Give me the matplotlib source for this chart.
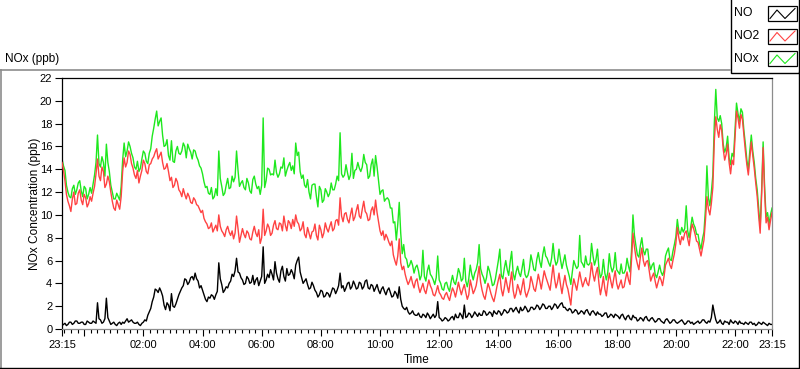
import numpy as np
import matplotlib
matplotlib.use('Agg')
import matplotlib.pyplot as plt
from matplotlib.lines import Line2D
from matplotlib.patches import Rectangle

# ---------------- data (ppb), sampled every 0.05 h (3 min) starting 23:15 ----------------
no = [
    0.3,0.4,0.5,0.3,0.4,0.6,0.6,0.4,0.5,0.7,0.7,0.5,0.5,0.6,0.6,0.4,0.4,0.7,0.6,0.5,
    0.5,0.7,0.6,0.5,2.3,0.9,0.8,0.5,0.6,0.9,2.7,1.0,0.7,0.4,0.5,0.6,0.4,0.3,0.5,0.6,
    0.4,0.6,0.5,0.7,0.9,0.6,0.7,0.8,0.6,0.5,0.5,0.6,0.4,0.3,0.5,0.6,0.8,0.7,1.2,1.5,
    1.8,2.4,2.8,3.5,3.4,3.2,3.6,3.3,2.9,2.1,1.7,2.3,2.1,1.6,3.1,2.0,1.9,2.2,2.6,3.0,
    3.3,3.6,3.8,4.4,4.3,3.9,4.1,4.5,4.6,4.3,4.9,4.4,4.2,3.6,3.8,3.4,3.0,2.6,2.4,2.8,
    2.7,3.0,2.9,2.6,3.0,3.3,5.8,4.4,3.9,3.2,3.4,3.7,3.6,4.0,4.2,4.8,4.6,5.1,6.2,5.0,
    4.9,4.5,4.3,3.9,4.0,4.6,4.4,4.0,4.1,4.7,3.9,4.3,4.5,3.8,4.2,4.6,7.2,4.0,4.3,4.8,
    4.5,5.2,4.8,4.3,5.9,4.9,4.4,4.1,5.1,5.5,4.6,4.2,5.3,4.7,4.8,5.2,4.9,4.4,5.6,6.0,
    6.3,5.0,4.5,4.0,4.2,4.4,3.9,3.5,3.6,4.1,3.8,3.4,3.2,2.8,3.0,3.4,3.3,2.8,2.9,3.2,
    3.1,2.8,3.2,3.6,3.5,3.1,3.4,3.8,4.9,3.6,3.8,3.3,3.6,4.0,4.1,3.5,3.7,4.2,3.9,3.5,
    3.6,4.1,4.0,3.5,3.7,4.2,4.3,3.6,3.5,3.9,3.8,3.3,3.6,3.9,3.4,3.1,3.5,3.7,3.3,3.0,
    3.4,3.6,3.2,2.8,2.9,3.3,3.1,2.7,3.7,2.6,2.0,1.8,1.7,1.9,1.5,1.3,1.4,1.6,1.3,1.2,
    1.2,1.4,1.1,1.0,1.3,1.2,1.0,1.4,1.2,0.9,1.1,1.3,1.0,1.2,2.4,1.0,0.9,0.7,0.8,1.0,
    0.9,0.7,0.8,1.0,1.1,0.8,1.3,1.0,1.0,1.4,1.2,0.9,2.1,1.0,1.1,1.4,1.3,1.0,1.2,1.5,
    1.3,1.1,1.4,1.2,1.2,1.6,1.5,1.2,1.3,1.5,1.4,1.1,1.6,1.4,1.3,1.6,1.5,1.2,1.4,1.7,
    1.6,1.4,1.5,1.8,1.8,1.5,1.7,1.9,1.6,1.4,1.9,1.6,1.7,2.0,1.8,1.5,1.6,1.9,1.9,1.7,
    1.8,2.1,2.0,1.7,1.9,2.2,2.1,1.8,1.8,2.0,2.0,1.7,1.9,2.2,2.1,1.8,2.0,2.2,2.3,1.9,
    1.9,1.7,1.6,1.8,1.7,1.4,1.5,1.7,1.6,1.3,1.4,1.6,1.5,1.3,1.6,1.7,1.4,1.2,1.5,1.6,
    1.4,1.2,1.5,1.3,1.3,1.1,1.2,1.4,1.4,1.0,1.1,1.3,1.2,1.0,1.3,1.2,1.1,0.9,1.2,1.3,
    1.0,0.8,1.1,1.2,0.9,0.8,1.2,1.0,1.0,0.7,0.8,1.0,0.9,0.7,1.0,1.1,0.8,0.7,0.9,1.0,
    0.8,0.6,0.7,0.9,0.9,0.7,0.6,0.5,0.8,0.9,0.7,0.5,0.6,0.8,0.8,0.6,0.5,0.6,0.7,0.8,
    0.6,0.4,0.5,0.7,0.7,0.5,0.6,0.4,0.5,0.6,0.7,0.5,0.6,0.8,0.8,0.6,0.5,0.7,0.6,1.0,
    2.1,1.4,0.8,0.5,0.6,0.8,0.5,0.4,0.7,0.6,0.6,0.4,0.8,0.6,0.5,0.7,0.6,0.4,0.7,0.5,
    0.5,0.4,0.6,0.5,0.4,0.6,0.6,0.4,0.5,0.3,0.4,0.6,0.5,0.4,0.6,0.5,0.4,0.3,0.5,0.4,
    0.4,
]

no2 = [
    14.6,13.9,13.0,11.8,11.2,10.8,10.3,11.4,12.0,10.9,11.0,11.9,12.2,11.3,10.9,11.8,11.5,10.7,11.0,11.6,
    11.2,11.9,12.5,13.6,14.9,13.4,13.0,14.2,13.8,12.4,12.7,13.4,12.9,12.0,11.2,10.6,10.4,11.3,10.9,10.5,
    11.6,13.8,15.0,14.2,14.6,15.6,15.3,14.5,14.1,13.5,13.2,13.9,12.8,13.4,13.9,14.8,14.5,13.8,13.6,14.4,
    14.5,14.9,15.1,15.5,15.8,14.9,15.2,15.5,14.6,14.0,14.1,14.5,13.8,13.0,13.3,12.4,12.6,13.2,12.9,12.2,
    12.0,11.6,12.3,11.8,11.4,11.9,11.6,11.1,11.0,11.5,11.3,10.9,10.8,10.5,10.2,10.4,9.7,9.4,9.2,8.8,
    8.9,9.3,8.5,8.8,9.1,8.6,10.0,9.0,8.6,8.4,8.1,8.7,9.0,8.5,8.2,8.6,7.9,8.4,9.9,8.8,
    7.6,8.2,8.8,8.3,8.0,8.6,8.4,7.9,7.8,8.5,9.0,8.4,8.1,8.7,7.5,8.0,10.5,8.2,8.6,9.2,
    8.9,8.2,8.4,9.1,9.5,8.8,8.7,9.3,9.2,8.6,9.9,9.1,8.6,9.5,9.3,8.8,9.6,9.0,10.0,9.4,
    9.2,8.6,8.8,9.4,8.3,8.0,8.9,8.4,7.9,8.5,8.6,9.2,8.2,7.8,9.1,8.7,8.0,8.4,9.3,8.8,
    8.5,9.0,9.4,8.6,8.8,9.5,9.6,9.1,11.5,9.9,9.4,10.1,10.2,9.6,9.3,10.0,10.6,9.5,9.8,10.4,
    10.9,9.9,9.7,10.5,11.2,10.3,10.1,9.5,9.6,10.4,10.7,10.0,11.3,10.2,9.4,8.6,8.2,8.6,7.8,8.3,
    8.0,7.6,7.3,7.7,6.5,6.0,5.6,6.4,7.9,5.8,5.2,5.5,4.8,4.3,3.9,4.2,4.6,4.0,3.6,4.2,
    4.4,3.7,3.2,3.6,4.0,3.4,3.1,3.7,4.3,3.8,3.5,3.0,2.9,3.3,3.8,3.2,3.0,2.7,2.6,3.0,
    3.2,2.8,2.5,3.1,3.6,3.3,2.8,3.4,4.1,3.5,3.0,3.5,3.9,3.2,2.6,3.0,4.3,3.7,3.1,3.4,
    3.8,4.6,5.5,4.1,3.4,2.9,2.6,3.3,4.0,3.6,3.1,2.7,2.4,3.0,3.7,4.3,4.8,3.5,2.9,3.6,
    4.5,3.8,3.2,4.1,5.0,3.4,2.7,3.1,3.9,3.5,3.0,3.7,4.4,3.3,2.8,3.2,3.6,4.6,4.1,3.5,
    3.3,4.0,4.8,4.2,3.5,4.3,5.1,4.6,4.2,3.8,3.4,4.5,5.6,4.4,3.6,4.1,4.9,3.9,3.1,4.0,
    4.7,3.9,3.5,2.8,2.1,3.6,4.4,3.9,3.4,4.2,5.0,4.3,3.7,4.1,4.5,4.0,3.8,4.6,5.8,4.8,
    4.2,4.9,5.4,4.0,3.0,3.7,4.6,3.5,2.9,4.0,4.9,4.2,3.6,4.4,5.1,4.0,3.5,3.9,4.3,3.6,
    3.7,4.4,5.0,4.3,3.9,6.0,8.4,7.2,6.3,5.7,5.2,6.3,7.1,6.0,5.5,5.9,6.0,5.1,4.2,4.6,
    4.9,4.2,3.6,4.1,4.6,4.3,3.8,4.6,5.6,5.9,6.2,5.6,5.3,6.0,6.6,7.5,8.9,8.0,7.4,8.1,
    7.8,8.4,8.6,7.9,7.3,8.4,9.2,8.8,8.3,7.7,7.6,7.0,6.4,7.1,7.8,9.5,11.6,10.5,10.0,11.0,
    12.4,16.5,18.6,17.5,16.8,17.9,17.4,15.8,14.8,15.3,16.2,14.6,13.6,14.8,14.4,16.8,19.1,18.5,17.6,18.8,
    18.4,17.0,15.6,14.4,13.5,15.0,16.4,15.2,14.1,12.8,11.6,9.9,8.4,11.8,15.9,12.0,9.3,9.8,8.7,9.5,
    10.2,
]

nox = [
    14.9,14.3,13.9,12.6,12.0,11.6,11.5,12.3,12.6,11.8,12.2,12.8,13.0,12.1,11.6,12.5,12.3,11.4,11.8,12.4,
    11.9,12.7,13.5,14.6,17.0,14.5,14.2,15.1,14.6,13.4,16.2,14.6,13.8,12.6,12.0,11.4,11.4,11.9,11.6,11.3,
    12.5,14.8,16.3,15.1,15.6,16.4,16.0,15.4,15.0,14.2,14.0,14.7,13.8,14.1,14.9,15.6,15.4,14.7,14.5,15.4,
    15.8,16.9,17.6,18.4,19.1,17.8,18.2,18.5,17.0,16.0,16.1,16.6,15.2,14.8,16.5,14.7,14.6,15.6,16.0,15.4,
    15.3,15.6,16.3,16.0,15.0,16.2,15.8,15.5,14.9,15.7,15.6,15.1,14.8,14.3,14.1,13.6,12.9,12.4,12.5,11.9,
    11.8,12.4,11.4,11.6,12.3,11.7,15.6,13.2,12.5,11.7,11.9,12.6,13.2,12.3,12.4,13.4,12.9,13.3,15.6,13.9,
    12.5,12.8,13.0,12.4,12.2,13.2,12.8,12.1,11.9,13.1,13.4,12.7,12.3,12.5,11.8,12.6,18.5,12.4,13.0,14.1,
    14.0,13.5,13.6,13.5,14.8,13.7,13.3,13.6,14.2,14.1,15.0,13.4,13.9,14.3,14.6,13.9,14.3,13.6,16.3,15.2,
    15.5,13.8,13.2,13.5,12.6,12.4,13.1,12.0,11.4,12.6,12.7,12.7,11.6,10.7,12.5,12.2,11.1,11.3,12.3,12.0,
    11.6,11.9,12.8,12.2,12.2,12.7,13.4,13.0,17.2,13.6,13.3,13.5,14.4,13.7,13.1,13.5,15.4,13.2,13.9,14.0,
    14.6,14.1,13.8,14.2,15.3,14.6,14.4,13.2,13.4,14.4,14.9,13.4,15.2,14.2,13.0,11.8,12.1,12.2,11.2,11.4,
    11.5,11.3,10.6,10.6,9.3,9.4,7.8,9.2,11.1,8.4,6.6,7.4,6.3,6.1,5.4,5.6,6.0,5.6,4.9,5.4,
    5.6,5.1,4.3,4.7,6.9,4.6,4.2,5.1,5.6,4.8,4.6,4.3,3.9,4.5,6.4,4.3,4.0,3.5,3.4,4.0,
    4.1,3.6,3.3,4.1,4.7,4.1,3.9,4.5,5.3,4.9,4.2,4.4,6.2,4.2,3.7,4.4,5.6,4.8,4.3,4.9,
    5.2,5.8,7.4,5.3,4.8,4.5,4.0,4.5,5.5,5.1,4.5,3.8,3.9,4.4,5.2,6.0,7.0,4.7,4.4,5.3,
    6.0,5.2,4.7,5.9,6.8,4.9,4.3,5.0,5.5,4.9,4.6,5.3,6.1,4.8,4.5,4.7,5.3,6.5,5.9,5.2,
    5.1,6.1,6.7,5.9,5.4,6.5,7.2,6.4,6.2,5.8,5.5,6.2,7.5,6.2,5.6,5.9,7.0,6.1,5.3,5.9,
    6.5,5.6,5.1,4.6,3.9,5.0,6.0,5.6,5.3,5.5,8.2,5.9,5.7,5.4,6.4,5.7,5.6,5.8,7.5,6.4,
    5.6,6.1,7.0,5.3,4.5,4.8,6.1,4.9,4.3,5.0,6.6,5.5,5.0,5.4,6.7,5.2,5.0,4.8,5.7,4.9,
    4.9,5.2,6.2,5.5,5.0,6.8,10.0,8.2,7.3,6.5,6.3,7.3,8.0,6.9,6.5,7.0,7.0,5.8,5.2,5.6,
    5.8,4.8,4.5,5.0,5.6,5.0,4.7,5.1,6.4,6.8,7.1,6.1,6.0,6.8,7.4,8.1,9.6,8.6,8.3,8.9,
    8.5,8.8,10.8,8.6,8.0,8.9,9.8,9.2,8.9,8.3,8.3,7.5,7.0,7.9,8.5,10.5,14.3,11.5,10.8,12.0,
    13.5,18.0,21.0,18.5,18.2,18.7,18.0,16.2,15.5,15.9,16.9,15.0,14.4,15.4,15.1,17.5,19.8,18.9,18.2,19.3,
    19.0,17.4,16.2,14.8,14.0,15.6,17.0,15.6,14.6,13.2,12.2,10.5,8.9,12.2,16.4,12.5,9.8,10.2,9.2,10.0,
    10.6,
]

assert len(no) == len(no2) == len(nox) == 481, (len(no), len(no2), len(nox))
t_hours = np.arange(len(no)) * 0.05   # hours since 23:15

series_names = ['NO', 'NO2', 'NOx']
series_colors = ['#000000', '#ff4242', '#1ee81e']

x_major_pos = [0, 0.75, 2.75, 4.75, 6.75, 8.75, 10.75, 12.75, 14.75,
               16.75, 18.75, 20.75, 22.75, 24]
x_major_labels = ['23:15', '', '02:00', '04:00', '06:00', '08:00', '10:00',
                  '12:00', '14:00', '16:00', '18:00', '20:00', '22:00', '23:15']
y_ticks = list(range(0, 23, 2))

# ---------------- figure ----------------
plt.rcParams['font.family'] = ['Liberation Sans', 'DejaVu Sans']
W, H = 800, 369
fig = plt.figure(figsize=(W / 100, H / 100), dpi=100)
fig.patch.set_facecolor('white')

ax = fig.add_axes([62 / W, 1 - 329 / H, 710 / W, 251 / H])
ax.set_facecolor('white')

lw = 1.0
ax.plot(t_hours, nox, color=series_colors[2], lw=lw, zorder=2)
ax.plot(t_hours, no2, color=series_colors[1], lw=lw, zorder=3)
ax.plot(t_hours, no, color=series_colors[0], lw=lw, zorder=4)

ax.set_xlim(0, 24)
ax.set_ylim(0, 22)

ax.set_xticks(x_major_pos)
ax.set_xticklabels(x_major_labels)
minor = []
k = 0.75 - 2 / 9
while k > 0.02:
    minor.append(k)
    k -= 2 / 9
for m in range(12):
    for j in range(1, 9):
        p = 0.75 + 2 * m + j * 2 / 9
        if p < 23.97:
            minor.append(p)
ax.set_xticks(minor, minor=True)
ax.set_yticks(y_ticks)

ax.tick_params(axis='x', which='major', direction='out', length=5, width=0.8,
               pad=3, labelsize=8, colors='black')
ax.tick_params(axis='x', which='minor', direction='out', length=3, width=0.8)
ax.tick_params(axis='y', direction='out', length=5, width=0.8, pad=2,
               labelsize=8)

for s in ['top', 'left']:
    ax.spines[s].set_color('black')
    ax.spines[s].set_linewidth(0.9)
for s in ['right', 'bottom']:
    ax.spines[s].set_color('#8c8c8c')
    ax.spines[s].set_linewidth(0.9)

ax.set_xlabel('Time', fontsize=8.5, labelpad=3)
ax.set_ylabel('NOx Concentration (ppb)', fontsize=8.6)
ax.yaxis.set_label_coords(-0.030, 0.5)

# ---------------- overlay (pixel coordinates) ----------------
ov = fig.add_axes([0, 0, 1, 1], zorder=10)
ov.set_xlim(0, W)
ov.set_ylim(H, 0)
ov.axis('off')
ov.patch.set_alpha(0)

# outer frame of the graph
ov.add_line(Line2D([0, 730], [69.5, 69.5], color='#8c8c8c', lw=1.2))
ov.add_line(Line2D([0.8, 0.8], [69.5, 368], color='#8c8c8c', lw=1.2))
ov.add_line(Line2D([0, 799], [367.8, 367.8], color='black', lw=1.0))
ov.add_line(Line2D([798.8, 798.8], [72, 368], color='black', lw=1.0))

ov.text(5, 59, 'NOx (ppb)', fontsize=8.5, va='center', ha='left')

# legend
ov.add_patch(Rectangle((730.5, -2), 68.3, 74.5, facecolor='white',
                       edgecolor='black', lw=1.0))
row_y = [13.5, 36, 58.5]
for name, col, cy in zip(series_names, series_colors, row_y):
    ov.text(734, cy, name, fontsize=8.8, va='center', ha='left')
    ov.add_patch(Rectangle((768, cy - 7.5), 29, 15, facecolor='white',
                           edgecolor='black', lw=0.9))
    ov.add_line(Line2D([770, 777, 785, 795], [cy + 5, cy - 3.5, cy + 5, cy - 5],
                       color=col, lw=0.8))

fig.savefig('out.png', dpi=100, facecolor='white')
